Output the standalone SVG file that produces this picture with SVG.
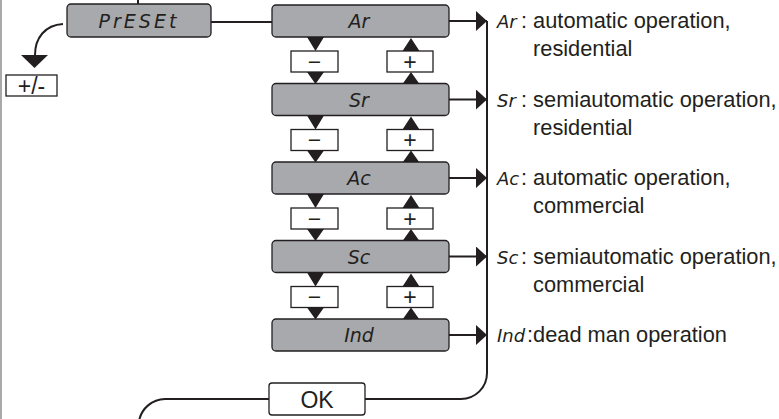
<svg xmlns="http://www.w3.org/2000/svg" width="779" height="419" viewBox="0 0 779 419">
<defs>
<style>
.box{fill:#a7a9ac;stroke:#231f20;stroke-width:1.3}
.mini{fill:#fff;stroke:#231f20;stroke-width:1.3}
.ln{fill:none;stroke:#231f20;stroke-width:2}
.tri{fill:#231f20}
.seg{font-family:"DejaVu Sans",sans-serif;font-style:italic;font-size:19px;fill:#231f20;text-anchor:middle}
.segl{font-family:"DejaVu Sans",sans-serif;font-style:italic;font-size:18px;fill:#231f20}
.desc{font-family:"Liberation Sans",Arial,sans-serif;font-size:21.8px;fill:#231f20}
.sym{font-family:"Liberation Sans",Arial,sans-serif;font-size:23px;fill:#231f20;text-anchor:middle}
</style>
<marker id="ah" viewBox="0 0 11 20" refX="11" refY="10" markerWidth="11" markerHeight="20" markerUnits="userSpaceOnUse" orient="auto">
<path d="M0,0 L11,10 L0,20 Z" fill="#231f20"/>
</marker>
</defs>
<rect width="779" height="419" fill="#fff"/>
<line x1="1" y1="0" x2="1" y2="419" stroke="#8c8c8c" stroke-width="1.5"/>

<g id="connectors">
<line class="ln" x1="138" y1="0" x2="138" y2="4"/>
<line class="ln" x1="211" y1="22" x2="272" y2="22"/>
<path class="ln" d="M63,24 C45,25 35,38 35,55"/>
<path class="tri" d="M21,55 L48,55 L34.5,68 Z"/>
<line class="ln" x1="449" y1="21" x2="487" y2="21" marker-end="url(#ah)"/>
<line class="ln" x1="449" y1="99.5" x2="487" y2="99.5" marker-end="url(#ah)"/>
<line class="ln" x1="449" y1="178" x2="487" y2="178" marker-end="url(#ah)"/>
<line class="ln" x1="449" y1="256.5" x2="487" y2="256.5" marker-end="url(#ah)"/>
<line class="ln" x1="449" y1="335" x2="487" y2="335" marker-end="url(#ah)"/>
<path class="ln" d="M487,21 V373 A26,26 0 0 1 461,399 H365"/>
<path class="ln" d="M269,399 H165 A27,27 0 0 0 139,421"/>
<g id="steps">
<path class="tri" d="M307,37 L324,37 L315.5,51 Z M307,72 L324,72 L315.5,84 Z M402.5,51 L419.5,51 L411,38 Z M402.5,84 L419.5,84 L411,72 Z"/>
<path class="tri" transform="translate(0,78.5)" d="M307,37 L324,37 L315.5,51 Z M307,72 L324,72 L315.5,84 Z M402.5,51 L419.5,51 L411,38 Z M402.5,84 L419.5,84 L411,72 Z"/>
<path class="tri" transform="translate(0,157)" d="M307,37 L324,37 L315.5,51 Z M307,72 L324,72 L315.5,84 Z M402.5,51 L419.5,51 L411,38 Z M402.5,84 L419.5,84 L411,72 Z"/>
<path class="tri" transform="translate(0,235.5)" d="M307,37 L324,37 L315.5,51 Z M307,72 L324,72 L315.5,84 Z M402.5,51 L419.5,51 L411,38 Z M402.5,84 L419.5,84 L411,72 Z"/>
</g>
</g>

<g id="preset">
<rect class="box" x="67" y="4" width="144" height="33" rx="4"/>
<text class="seg" x="139" y="28" font-size="21" letter-spacing="3">PrESEt</text>
</g>
<g id="pm">
<rect class="mini" x="6" y="75" width="51" height="21"/>
<text class="sym" x="31.5" y="93.5" font-size="22">+/-</text>
</g>

<g id="ar">
<rect class="box" x="272" y="5" width="177" height="32" rx="4"/>
<text class="seg" x="359" y="28">Ar</text>
</g>
<g id="sr">
<rect class="box" x="272" y="83.5" width="177" height="32" rx="4"/>
<text class="seg" x="359" y="106.5">Sr</text>
</g>
<g id="ac">
<rect class="box" x="272" y="162" width="177" height="32" rx="4"/>
<text class="seg" x="359" y="185">Ac</text>
</g>
<g id="sc">
<rect class="box" x="272" y="240.5" width="177" height="32" rx="4"/>
<text class="seg" x="359" y="263.5">Sc</text>
</g>
<g id="ind">
<rect class="box" x="272" y="319" width="177" height="32" rx="4"/>
<text class="seg" x="359" y="342">Ind</text>
</g>

<g id="minus-plus">
<rect class="mini" x="291" y="51" width="47" height="21"/><text class="sym" x="314.5" y="69.5">−</text>
<rect class="mini" x="387" y="51" width="46" height="21"/><text class="sym" x="410" y="69.5">+</text>
<rect class="mini" x="291" y="129.5" width="47" height="21"/><text class="sym" x="314.5" y="148">−</text>
<rect class="mini" x="387" y="129.5" width="46" height="21"/><text class="sym" x="410" y="148">+</text>
<rect class="mini" x="291" y="208" width="47" height="21"/><text class="sym" x="314.5" y="226.5">−</text>
<rect class="mini" x="387" y="208" width="46" height="21"/><text class="sym" x="410" y="226.5">+</text>
<rect class="mini" x="291" y="286.5" width="47" height="21"/><text class="sym" x="314.5" y="305">−</text>
<rect class="mini" x="387" y="286.5" width="46" height="21"/><text class="sym" x="410" y="305">+</text>
</g>

<g id="ok">
<rect class="mini" x="269" y="383" width="96" height="32" rx="3"/>
<text class="sym" x="317" y="408" font-size="25">OK</text>
</g>

<g id="labels">
<text class="segl" x="497" y="28">Ar</text><text class="desc" x="521" y="28">: automatic operation,</text>
<text class="desc" x="533" y="56">residential</text>
<text class="segl" x="497" y="107">Sr</text><text class="desc" x="521" y="107">: semiautomatic operation,</text>
<text class="desc" x="533" y="135">residential</text>
<text class="segl" x="497" y="185">Ac</text><text class="desc" x="521" y="185">: automatic operation,</text>
<text class="desc" x="533" y="213">commercial</text>
<text class="segl" x="497" y="264">Sc</text><text class="desc" x="521" y="264">: semiautomatic operation,</text>
<text class="desc" x="533" y="292">commercial</text>
<text class="segl" x="497" y="342">Ind</text><text class="desc" x="527" y="342">:dead man operation</text>
</g>
</svg>
